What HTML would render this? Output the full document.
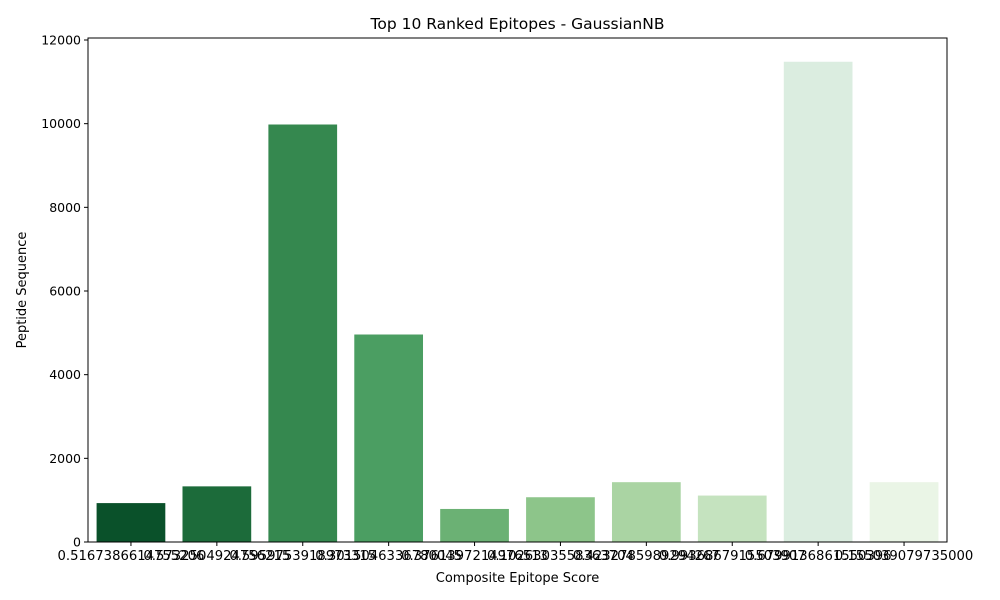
<!DOCTYPE html>
<html><head><meta charset="utf-8"><style>body{margin:0;background:#fff}svg{display:block;font-family:"DejaVu Sans","Liberation Sans",sans-serif}</style></head>
<body>
<svg id="chart" width="1000" height="600"></svg>
<script>
const categories=["0.5167386614755206","0.5732504924756215","0.5959753918973315","0.3015046336780045","0.3761397214976513","0.1026303558363704","0.4232785989294267","0.9936867915503907","0.6799136861550396","0.155039079735000"];
const values=[930,1330,9980,4960,790,1070,1430,1110,11480,1430];
const colors=["#0a512a","#1c6b3a","#35884f","#4b9e62","#6bb174","#8dc58a","#aad4a3","#c5e3bf","#dbede0","#eaf5e6"];
const yTicks=[0,2000,4000,6000,8000,10000,12000];
const NS="http://www.w3.org/2000/svg",svg=document.getElementById('chart');
const L=88,R=947,T=38,B=542;
function y(v){return B-v/12000*502;}
const slot=(R-L)/categories.length;
function x(i){return L+slot*(i+0.5);}
function mk(t,a,p){const e=document.createElementNS(NS,t);for(const k in a)e.setAttribute(k,a[k]);(p||svg).appendChild(e);return e;}
values.forEach((v,i)=>{const r=mk('rect',{x:x(i)-slot*0.4,y:y(v),width:slot*0.8,height:B-y(v),fill:colors[i]});

});
const ax=mk('rect',{x:L,y:T,width:R-L,height:B-T,fill:'none',stroke:'#000','stroke-width':1});


yTicks.forEach(t=>{mk('line',{x1:L-4,x2:L,y1:y(t),y2:y(t),stroke:'#000'});
const tx=mk('text',{x:L-7,y:y(t)+4.5,'text-anchor':'end','font-size':12.5});tx.textContent=t;

});
categories.forEach((c,i)=>{mk('line',{x1:x(i),x2:x(i),y1:B,y2:B+4,stroke:'#000'});
const tx=mk('text',{x:x(i),y:B+18,'text-anchor':'middle','font-size':13.2});tx.textContent=c;

});
let t=mk('text',{x:(L+R)/2,y:29,'text-anchor':'middle','font-size':15.5});t.textContent='Top 10 Ranked Epitopes - GaussianNB';


t=mk('text',{x:(L+R)/2,y:582,'text-anchor':'middle','font-size':13});t.textContent='Composite Epitope Score';


t=mk('text',{x:26,y:290,'text-anchor':'middle','font-size':13,transform:'rotate(-90 26 290)'});t.textContent='Peptide Sequence';


</script>
</body></html>
